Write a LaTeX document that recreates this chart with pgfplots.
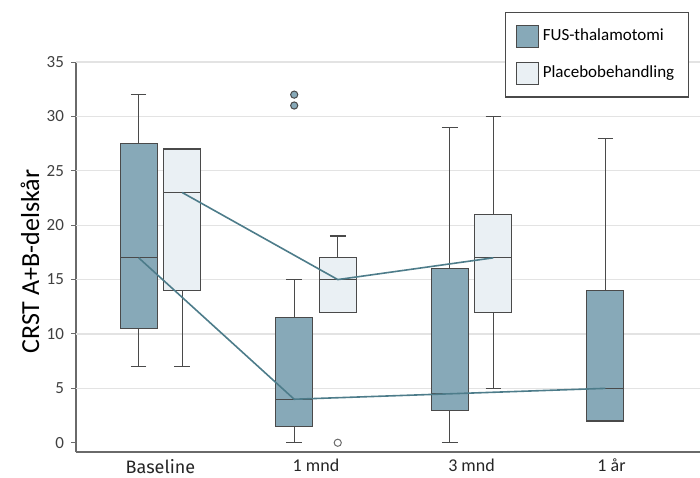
\documentclass[border=0pt]{standalone}
\usepackage{fontspec}
\setmainfont{Carlito}
\newfontfamily\fira{Fira Sans}
\usepackage{pgfplots}
\pgfplotsset{compat=1.18}
\usepgfplotslibrary{statistics}
\definecolor{fus}{HTML}{87A9B8}
\definecolor{plac}{HTML}{EAF0F4}
\definecolor{edge}{HTML}{4A4A4A}
\definecolor{trend}{HTML}{4D7C8A}
\definecolor{gridc}{HTML}{E3E3E3}
\definecolor{axc}{HTML}{6A6A6A}
\pgfplotsset{
  fusbox/.style={fill=fus, draw=edge, line width=0.6pt, solid, mark=none},
  placbox/.style={fill=plac, draw=edge, line width=0.6pt, solid, mark=none},
}
\begin{document}
\begin{tikzpicture}
\begin{axis}[
 scale only axis, width=312pt, height=195pt,
 xmin=-0.543, xmax=3.469, ymin=-0.85, ymax=35,
 axis x line*=bottom, axis y line*=left,
 axis line style={draw=axc, line width=0.8pt},
 xtick={0,1,2,2.9}, xticklabels={{\fira Baseline},1 mnd,3 mnd,1 år},
 x tick style={draw=none},
 ytick={0,5,...,35},
 y tick style={draw=axc, line width=0.5pt},
 tick align=outside, major tick length=2.5pt,
 extra y ticks={5,10,...,35}, extra y tick labels={},
 extra y tick style={grid=major, major tick length=0pt},
 grid style={draw=gridc, line width=0.6pt},
 ticklabel style={font=\fontsize{8.5}{10}\selectfont, text=black!75},
 xticklabel style={font=\fontsize{9}{10}\selectfont, text=black!85, yshift=2.5pt},
 /pgf/number format/assume math mode=true,
 ylabel={CRST A+B-delskår},
 ylabel style={at={(axis description cs:-0.0737,0.488)}, anchor=center, font=\fontsize{13}{15}\selectfont},
 legend style={at={(0.6875,1.128)}, anchor=north west, draw=edge, line width=0.6pt,
   font=\fontsize{8.5}{10}\selectfont, inner xsep=5pt, inner ysep=6pt, row sep=7pt,
   legend cell align=left},
 legend image code/.code={\draw[#1] (0pt,-5.5pt) rectangle (11pt,5.5pt);},
]
\addlegendimage{fill=fus, draw=edge, line width=0.6pt}
\addlegendentry{FUS-thalamotomi}
\addlegendimage{fill=plac, draw=edge, line width=0.6pt}
\addlegendentry{Placebobehandling}

% FUS-thalamotomi
\addplot+[forget plot, fusbox, boxplot prepared={draw direction=y, draw position=-0.14, box extend=0.238, whisker extend=0.1,
  lower whisker=7, lower quartile=10.5, median=17, upper quartile=27.5, upper whisker=32}] coordinates {};
\addplot+[forget plot, fusbox, boxplot prepared={draw direction=y, draw position=0.86, box extend=0.238, whisker extend=0.1,
  lower whisker=0, lower quartile=1.5, median=4, upper quartile=11.5, upper whisker=15}] coordinates {};
\addplot+[forget plot, fusbox, boxplot prepared={draw direction=y, draw position=1.86, box extend=0.238, whisker extend=0.1,
  lower whisker=0, lower quartile=3, median=4.5, upper quartile=16, upper whisker=29}] coordinates {};
\addplot+[forget plot, fusbox, boxplot prepared={draw direction=y, draw position=2.86, box extend=0.238, whisker extend=0.1,
  lower whisker=2, lower quartile=2, median=5, upper quartile=14, upper whisker=28}] coordinates {};
% Placebo
\addplot+[forget plot, placbox, boxplot prepared={draw direction=y, draw position=0.14, box extend=0.238, whisker extend=0.1,
  lower whisker=7, lower quartile=14, median=23, upper quartile=27, upper whisker=27}] coordinates {};
\addplot+[forget plot, placbox, boxplot prepared={draw direction=y, draw position=1.14, box extend=0.238, whisker extend=0.1,
  lower whisker=12, lower quartile=12, median=15, upper quartile=17, upper whisker=19}] coordinates {};
\addplot+[forget plot, placbox, boxplot prepared={draw direction=y, draw position=2.14, box extend=0.238, whisker extend=0.1,
  lower whisker=5, lower quartile=12, median=17, upper quartile=21, upper whisker=30}] coordinates {};

% outliers
\addplot[forget plot, only marks, mark=*, mark size=1.8pt, mark options={fill=fus, draw=edge, line width=0.5pt}]
  coordinates {(0.86,31) (0.86,32)};
\addplot[forget plot, only marks, mark=*, mark size=1.8pt, mark options={fill=white, draw=edge!80, line width=0.5pt}]
  coordinates {(1.14,0)};

% trend lines
\addplot[forget plot, draw=trend, line width=0.8pt] coordinates {(-0.14,17) (0.86,4) (1.86,4.5) (2.86,5)};
\addplot[forget plot, draw=trend, line width=0.8pt] coordinates {(0.14,23) (1.14,15) (2.14,17)};

\coordinate (bbA) at (rel axis cs:-0.1218,-0.0641);
\coordinate (bbB) at (rel axis cs:1,1.159);
\end{axis}
\pgfresetboundingbox
\path[use as bounding box] (bbA) rectangle (bbB);
\end{tikzpicture}
\end{document}
